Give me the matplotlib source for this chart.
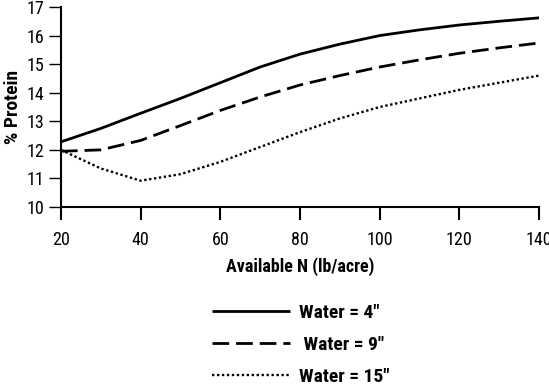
import matplotlib
matplotlib.use("Agg")
import matplotlib.pyplot as plt

# available N (lb/acre)
nitrogen = [20, 30, 40, 50, 60, 70, 80, 90, 100, 110, 120, 130, 140]

# % protein for each water level
protein_4in = [12.28, 12.75, 13.28, 13.8, 14.35, 14.9, 15.35, 15.7, 16.0, 16.2, 16.37, 16.5, 16.62]
protein_9in = [11.95, 12.0, 12.33, 12.85, 13.38, 13.85, 14.27, 14.6, 14.9, 15.15, 15.38, 15.57, 15.74]
protein_15in = [12.0, 11.35, 10.92, 11.15, 11.58, 12.1, 12.62, 13.1, 13.5, 13.8, 14.1, 14.35, 14.6]

labels = ['Water = 4"', ' Water = 9"', 'Water = 15"']
x_ticks = [20, 40, 60, 80, 100, 120, 140]
y_ticks = [10, 11, 12, 13, 14, 15, 16, 17]

plt.rcParams['font.family'] = ['Roboto Condensed', 'DejaVu Sans']

fig = plt.figure(figsize=(5.49, 3.86), dpi=100)
ax = fig.add_axes([0.111, 0.4637, 0.871, 0.5182])

l1, = ax.plot(nitrogen, protein_4in, color='black', lw=2.0, solid_capstyle='butt')
l2, = ax.plot(nitrogen, protein_9in, color='black', lw=2.0, dashes=(6, 2.5))
l3, = ax.plot(nitrogen, protein_15in, color='black', lw=1.7, dashes=(1, 1.1))

ax.set_xlim(20, 140)
ax.set_ylim(10, 17)
ax.set_xticks(x_ticks)
ax.set_yticks(y_ticks)
for s in ['top', 'right']:
    ax.spines[s].set_visible(False)
for s in ['left', 'bottom']:
    ax.spines[s].set_linewidth(1.5)
ax.tick_params(axis='x', direction='out', length=9.5, width=1.5, labelsize=13, pad=8)
ax.tick_params(axis='y', direction='out', length=8.5, width=1, labelsize=13, pad=3.5)

ax.set_xlabel('Available N (lb/acre)', fontsize=13, fontweight='bold', labelpad=6)
ax.set_ylabel('% Protein', fontsize=14, fontweight='bold', labelpad=3)

fig.legend([l1, l2, l3], labels, loc='upper left', bbox_to_anchor=(0.354, 0.258),
           frameon=False, prop={'weight': 'bold', 'size': 14},
           handlelength=4.0, handletextpad=0.5, labelspacing=0.72)

fig.savefig('out.png', dpi=100)
